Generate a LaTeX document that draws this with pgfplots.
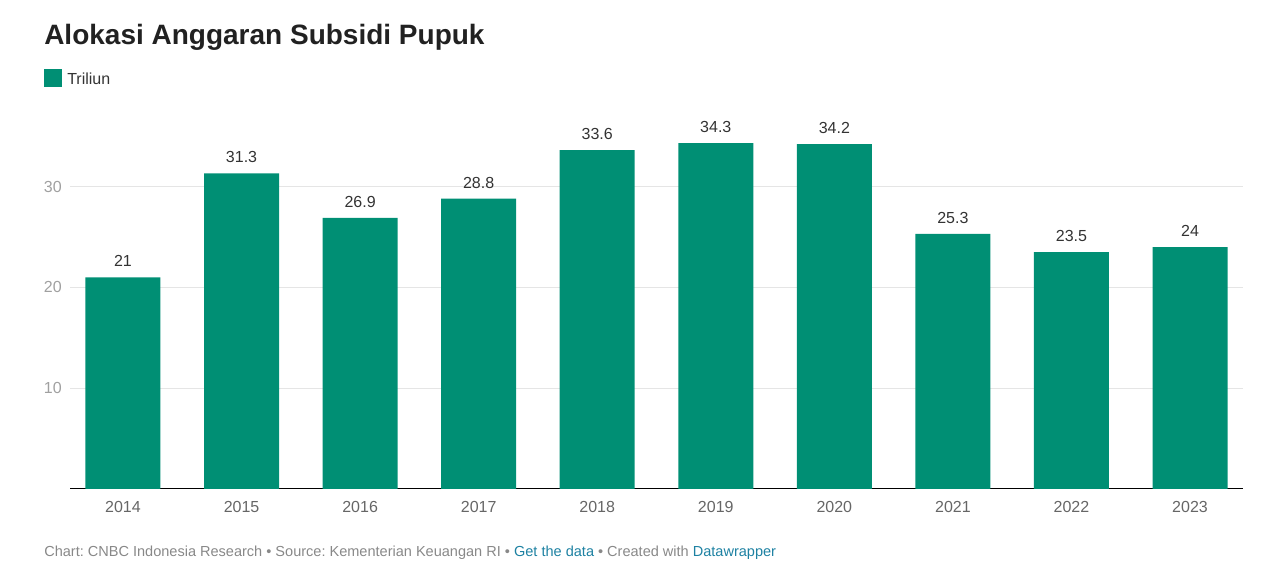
\documentclass[border=0pt]{standalone}
\usepackage{fontspec}
\setmainfont{Liberation Sans}
\usepackage{pgfplots}
\pgfplotsset{compat=1.18}
\definecolor{bargreen}{HTML}{008F74}
\definecolor{gridgray}{HTML}{E5E5E5}
\definecolor{ytickgray}{HTML}{A0A0A0}
\definecolor{xtickgray}{HTML}{666666}
\definecolor{valgray}{HTML}{333333}
\definecolor{footgray}{HTML}{888888}
\definecolor{linkblue}{HTML}{1D81A2}
\begin{document}
\frenchspacing
\begin{tikzpicture}
\useasboundingbox (0,0) rectangle (960pt,435pt);
\begin{axis}[
    at={(52.5pt,68.25pt)}, anchor=south west,
    scale only axis, width=879.75pt, height=276.75pt,
    xmin=-0.447, xmax=9.447, ymin=0, ymax=36.6,
    axis lines*=left,
    y axis line style={draw=none},
    x axis line style={black, line width=0.75pt},
    major tick length=0pt,
    ytick={10,20,30}, ymajorgrids,
    grid style={gridgray, line width=0.75pt},
    xtick={0,...,9},
    xticklabels={2014,2015,2016,2017,2018,2019,2020,2021,2022,2023},
    /pgf/number format/assume math mode=true,
    tick label style={font=\fontsize{12}{14}\selectfont, inner sep=0pt},
    xticklabel style={anchor=center, yshift=-13.5pt, text=xtickgray},
    yticklabel style={anchor=east, xshift=-6pt, text=ytickgray},
    ybar, bar width=56.25pt,
    nodes near coords,
    every node near coord/.append style={anchor=center, yshift=12pt, inner sep=0pt,
        font=\fontsize{12}{14}\selectfont, text=valgray},
]
\addplot[fill=bargreen, draw=none] coordinates {
    (0,21) (1,31.3) (2,26.9) (3,28.8) (4,33.6)
    (5,34.3) (6,34.2) (7,25.3) (8,23.5) (9,24)
};
\end{axis}
\node[anchor=base west, inner sep=0pt, text=black!87, font=\fontsize{21}{25}\selectfont\bfseries]
    at (33pt,401.25pt) {Alokasi Anggaran Subsidi Pupuk};
\fill[bargreen] (33pt,369.75pt) rectangle (46.5pt,383.25pt);
\node[anchor=base west, inner sep=0pt, text=valgray, font=\fontsize{12}{14}\selectfont]
    at (50.25pt,371.25pt) {Triliun};
\node[anchor=base west, inner sep=0pt, text=footgray, font=\fontsize{10.9}{12}\selectfont]
    at (33pt,17.25pt) {Chart: CNBC Indonesia Research • Source: Kementerian Keuangan RI • \textcolor{linkblue}{Get the data} • Created with \textcolor{linkblue}{Datawrapper}};
\end{tikzpicture}
\end{document}
